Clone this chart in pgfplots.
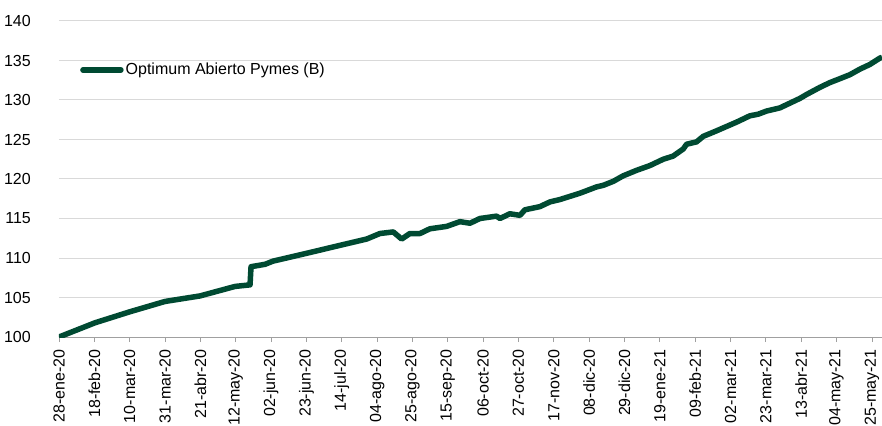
\documentclass[border=0pt]{standalone}
\usepackage{fontspec}
\setmainfont{Liberation Sans}
\usepackage{pgfplots}
\pgfplotsset{compat=1.18}
\definecolor{lineg}{RGB}{0,74,50}
\definecolor{gridg}{RGB}{217,217,217}
\definecolor{axisg}{RGB}{160,160,160}
\begin{document}
\fontsize{16}{19}\selectfont
\begin{tikzpicture}
\useasboundingbox (-59pt,-88pt) rectangle (823pt,337pt);
\begin{axis}[
  width=823pt, height=316pt, scale only axis,
  xmin=0, xmax=489, ymin=100, ymax=140,
  ytick={100,105,...,140},
  xtick={0,21,...,483},
  xticklabels={28-ene-20,18-feb-20,10-mar-20,31-mar-20,21-abr-20,12-may-20,02-jun-20,23-jun-20,14-jul-20,04-ago-20,25-ago-20,15-sep-20,06-oct-20,27-oct-20,17-nov-20,08-dic-20,29-dic-20,19-ene-21,09-feb-21,02-mar-21,23-mar-21,13-abr-21,04-may-21,25-may-21},
  axis x line*=bottom, axis y line*=left,
  y axis line style={draw=none},
  x axis line style={axisg, line width=1pt},
  ymajorgrids, grid style={gridg, line width=1pt},
  tick align=outside, major tick length=5pt,
  xtick style={axisg, line width=0.8pt},
  ytick style={draw=none},
  /pgf/number format/assume math mode=true,
  tick label style={font=\fontsize{16}{19}\selectfont},
  xticklabel style={rotate=90, anchor=east, inner sep=0pt, yshift=0pt, xshift=-7pt},
  yticklabel style={anchor=east, inner sep=0pt, xshift=-23pt},
  legend style={at={(0.0255,0.845)}, anchor=west, draw=none, fill=none, inner sep=0pt,
    font=\fontsize{16}{19}\selectfont, nodes={inner sep=2pt}},
  legend cell align=left,
  legend image code/.code={\draw[#1, line cap=round] (0pt,0pt) -- (38pt,0pt);},
]
\addplot[lineg, line width=5.5pt, line join=round] table {
x y
0 100.0
21.4 101.8
42.2 103.2
63.0 104.5
83.8 105.2
104.6 106.4
113.5 106.6
114.1 108.9
122.4 109.2
127.1 109.6
147.2 110.6
166.9 111.6
182.8 112.4
190.7 113.1
198.6 113.3
203.6 112.4
208.5 113.1
214.5 113.1
220.4 113.7
230.3 114.0
238.2 114.6
244.2 114.4
250.1 115.0
260.0 115.3
262.0 115.0
267.9 115.6
273.9 115.4
276.8 116.1
285.7 116.5
291.7 117.1
297.6 117.4
309.5 118.2
319.4 119.0
323.4 119.2
329.3 119.7
335.2 120.4
343.2 121.1
351.1 121.7
359.0 122.5
364.9 122.9
370.9 123.8
372.9 124.4
378.8 124.7
382.8 125.4
390.7 126.1
402.6 127.2
410.5 128.0
415.4 128.2
420.4 128.6
428.3 129.0
440.2 130.2
444.2 130.7
452.1 131.6
458.0 132.2
464.0 132.7
469.9 133.2
475.8 133.9
481.8 134.5
487.7 135.3
489 135.4
};
\addlegendentry{Optimum Abierto Pymes (B)}
\end{axis}
\end{tikzpicture}
\end{document}
